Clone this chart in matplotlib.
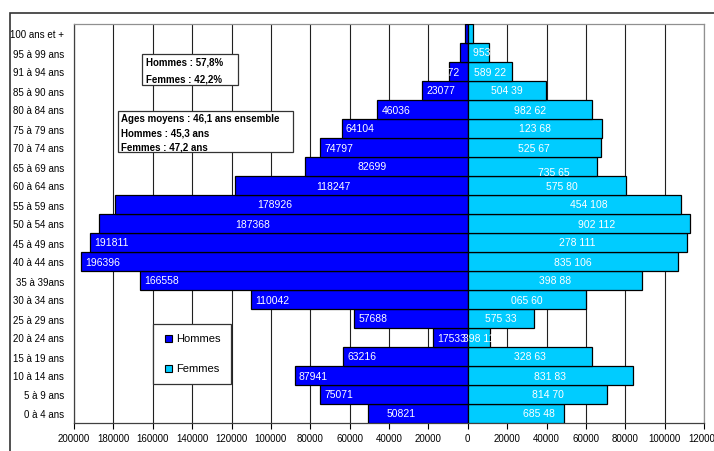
import matplotlib.pyplot as plt
from matplotlib.patches import Rectangle

plt.rcParams['font.family'] = ['Liberation Sans', 'DejaVu Sans']

# tranches d'age, du bas vers le haut
ages = ['0 à 4 ans', '5 à 9 ans', '10 à 14 ans', '15 à 19 ans', '20 à 24 ans',
        '25 à 29 ans', '30 à 34 ans', '35 à 39ans', '40 à 44 ans', '45 à 49 ans',
        '50 à 54 ans', '55 à 59 ans', '60 à 64 ans', '65 à 69 ans', '70 à 74 ans',
        '75 à 79 ans', '80 à 84 ans', '85 à 90 ans', '91 à 94 ans', '95 à 99 ans',
        '100 ans et +']
hommes = [50821, 75071, 87941, 63216, 17533, 57688, 110042, 166558, 196396, 191811,
          187368, 178926, 118247, 82699, 74797, 64104, 46036, 23077, 9672, 4100, 1200]
femmes = [48685, 70814, 83831, 63328, 11398, 33575, 60065, 88398, 106835, 111278,
          112902, 108454, 80575, 65735, 67525, 68123, 62982, 39504, 22589, 10953, 2500]
# etiquettes telles qu'affichees (format abime dans l'original)
lab_hommes = [str(v) for v in hommes[:19]] + ['', '']
lab_femmes = ['685 48', '814 70', '831 83', '328 63', '398 11', '575 33', '065 60',
              '398 88', '835 106', '278 111', '902 112', '454 108', '575 80', '735 65',
              '525 67', '123 68', '982 62', '504 39', '589 22', '953 10', '']
xticks = list(range(-200000, 120001, 20000))

# decalages manuels des etiquettes (pixels)
nudge_h = {0: 15, 10: 132, 11: 138, 12: 77, 13: 48, 18: -16}
nudge_f = {0: 23, 1: 10, 10: 18, 11: 14, 12: 15, 13: (21, -5), 19: 10}

W, H = 714, 452
fig = plt.figure(figsize=(W / 100, H / 100), dpi=100)


def fx(px):
    return px / W


def fy(py):
    return 1 - py / H


ax = fig.add_axes([fx(74), fy(424), fx(704 - 74), (424 - 25) / H])

blue = '#0000FF'
cyan = '#00CCFF'
y = list(range(len(ages)))
ax.barh(y, [-v for v in hommes], height=1.0, color=blue, edgecolor='black',
        linewidth=0.9, zorder=3, label='Hommes')
ax.barh(y, femmes, height=1.0, color=cyan, edgecolor='black',
        linewidth=0.9, zorder=3, label='Femmes')

for xv in xticks:
    if xv != 0:
        ax.axvline(xv, color='#202020', lw=0.8, zorder=1)

for i in y:
    dx = nudge_h.get(i, 0) * 0.72
    ax.annotate(lab_hommes[i], (-hommes[i], i), xytext=(3 + dx, 0),
                textcoords='offset points', ha='left', va='center',
                color='white', fontsize=7.5, zorder=5)
    n = nudge_f.get(i, 0)
    if isinstance(n, tuple):
        ndx, ndy = n
    else:
        ndx, ndy = n, 0
    ax.annotate(lab_femmes[i], (femmes[i] / 2, i), xytext=(ndx * 0.72, ndy * 0.72),
                textcoords='offset points', ha='center', va='center',
                color='white', fontsize=7.5, zorder=5)

ax.set_xlim(-200000, 120000)
ax.set_ylim(-0.5, len(ages) - 0.5)
ax.set_xticks(xticks)
ax.set_xticklabels([str(abs(v)) for v in xticks], fontsize=7)
ax.set_yticks(y)
ax.set_yticklabels(ages, fontsize=7)
ax.tick_params(axis='y', length=0, pad=7)
ax.tick_params(axis='x', length=4, width=0.8, direction='out', pad=3)
for side in ['top', 'right']:
    ax.spines[side].set_color('#909090')
for side in ['left', 'bottom']:
    ax.spines[side].set_color('#404040')
for s in ax.spines.values():
    s.set_linewidth(0.9)

# cadre exterieur du graphique
fig.patches.append(Rectangle((fx(10), fy(460)), fx(720 - 10), (460 - 14) / H,
                             transform=fig.transFigure, fill=False,
                             edgecolor='#333333', lw=1.2))

# encadres de texte
fig.patches.append(Rectangle((fx(142), fy(86)), fx(96), 31 / H, transform=fig.transFigure,
                             facecolor='white', edgecolor='#333333', lw=0.9, zorder=6))
fig.text(fx(146), fy(63), 'Hommes : 57,8%', fontsize=7, weight='bold', va='center', zorder=7)
fig.text(fx(146), fy(79), 'Femmes : 42,2%', fontsize=7, weight='bold', va='center', zorder=7)

fig.patches.append(Rectangle((fx(118), fy(153)), fx(175), 41 / H, transform=fig.transFigure,
                             facecolor='white', edgecolor='#333333', lw=0.9, zorder=6))
fig.text(fx(121), fy(119), 'Ages moyens : 46,1 ans ensemble', fontsize=7, weight='bold',
         va='center', zorder=7)
fig.text(fx(121), fy(133), 'Hommes : 45,3 ans', fontsize=7, weight='bold', va='center', zorder=7)
fig.text(fx(121), fy(148), 'Femmes : 47,2 ans', fontsize=7, weight='bold', va='center', zorder=7)

# legende
fig.patches.append(Rectangle((fx(153), fy(385)), fx(78), 60 / H, transform=fig.transFigure,
                             facecolor='white', edgecolor='#333333', lw=0.9, zorder=6))
for py, name, col in [(339, 'Hommes', blue), (369, 'Femmes', cyan)]:
    fig.patches.append(Rectangle((fx(165), fy(py + 3.5)), fx(7), 7 / H,
                                 transform=fig.transFigure, facecolor=col,
                                 edgecolor='black', lw=0.8, zorder=7))
    fig.text(fx(176), fy(py), name, fontsize=8, va='center', zorder=7)

fig.savefig('out.png', dpi=100)
